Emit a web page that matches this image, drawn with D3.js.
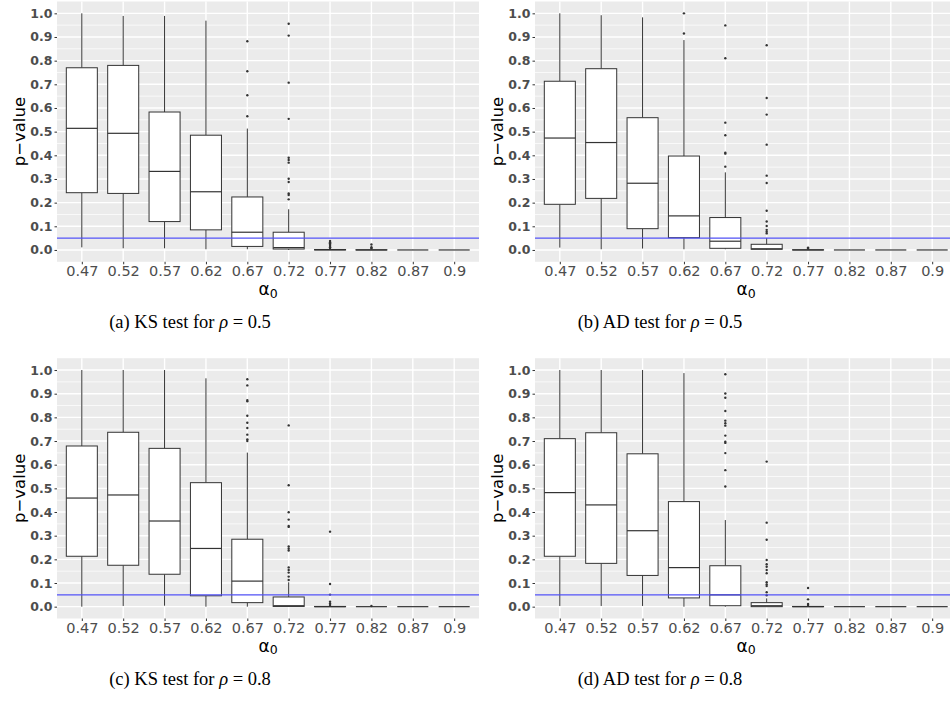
<!DOCTYPE html>
<html>
<head>
<meta charset="utf-8">
<script src="https://cdn.jsdelivr.net/npm/d3@7"></script>
<style>
  body { margin: 0; background: #fff; }
  svg { display: block; }
</style>
</head>
<body>
<div id="chart"></div>
<script>
// categories on the x axis (alpha_0)
var alphaLabels = ["0.47", "0.52", "0.57", "0.62", "0.67", "0.72", "0.77", "0.82", "0.87", "0.9"];
var yTicks = [0, 0.1, 0.2, 0.3, 0.4, 0.5, 0.6, 0.7, 0.8, 0.9, 1.0];
var cutoff = 0.05;

// box stats per category: [lower whisker, Q1, median, Q3, upper whisker]
var ksRho05Stats = [
  [0.011, 0.242, 0.514, 0.770, 1.0],
  [0.007, 0.239, 0.493, 0.780, 0.989],
  [0.007, 0.120, 0.332, 0.583, 0.989],
  [0.003, 0.085, 0.246, 0.485, 0.969],
  [0.003, 0.015, 0.075, 0.224, 0.513],
  [0.0, 0.004, 0.010, 0.075, 0.172],
  [0, 0, 0.001, 0.002, 0.004],
  [0, 0, 0, 0.001, 0.002],
  [0, 0, 0, 0, 0.001],
  [0, 0, 0, 0, 0]
];
var ksRho05Out = [
  [], [], [], [],
  [0.882, 0.755, 0.654, 0.565],
  [0.956, 0.906, 0.707, 0.554, 0.390, 0.380, 0.369, 0.301, 0.287, 0.239, 0.232, 0.214],
  [0.038, 0.033, 0.028, 0.022, 0.017, 0.012, 0.008],
  [0.023, 0.012, 0.007],
  [], []
];

var adRho05Stats = [
  [0.010, 0.193, 0.473, 0.713, 1.0],
  [0.003, 0.218, 0.454, 0.766, 0.992],
  [0.006, 0.090, 0.282, 0.559, 0.983],
  [0.003, 0.052, 0.144, 0.397, 0.887],
  [0.003, 0.007, 0.037, 0.137, 0.328],
  [0, 0.003, 0.005, 0.024, 0.051],
  [0, 0, 0, 0.001, 0.002],
  [0, 0, 0, 0, 0.001],
  [0, 0, 0, 0, 0],
  [0, 0, 0, 0, 0]
];
var adRho05Out = [
  [], [], [],
  [1.0, 0.915],
  [0.949, 0.810, 0.538, 0.485, 0.411, 0.407, 0.352],
  [0.865, 0.642, 0.572, 0.445, 0.314, 0.283, 0.166, 0.120, 0.101, 0.085, 0.077, 0.070],
  [0.010, 0.006],
  [], [], []
];

var ksRho08Stats = [
  [0.0, 0.213, 0.459, 0.679, 1.0],
  [0.003, 0.175, 0.472, 0.737, 1.0],
  [0.004, 0.137, 0.362, 0.669, 1.0],
  [0.0, 0.046, 0.246, 0.524, 0.965],
  [0.0, 0.017, 0.108, 0.285, 0.651],
  [0, 0.001, 0.004, 0.041, 0.103],
  [0, 0, 0, 0.001, 0.003],
  [0, 0, 0, 0, 0.001],
  [0, 0, 0, 0, 0],
  [0, 0, 0, 0, 0]
];
var ksRho08Out = [
  [], [], [], [],
  [0.961, 0.935, 0.873, 0.868, 0.807, 0.777, 0.755, 0.727, 0.707, 0.700],
  [0.766, 0.513, 0.399, 0.368, 0.341, 0.337, 0.254, 0.245, 0.237, 0.166, 0.155, 0.144, 0.127, 0.113],
  [0.317, 0.096, 0.051, 0.021, 0.013, 0.007],
  [0.003],
  [], []
];

var adRho08Stats = [
  [0.003, 0.213, 0.482, 0.710, 1.0],
  [0.003, 0.183, 0.430, 0.735, 1.0],
  [0.003, 0.132, 0.321, 0.646, 1.0],
  [0.0, 0.037, 0.165, 0.444, 0.987],
  [0.0, 0.004, 0.050, 0.173, 0.366],
  [0, 0, 0.004, 0.017, 0.035],
  [0, 0, 0, 0.001, 0.004],
  [0, 0, 0, 0, 0.001],
  [0, 0, 0, 0, 0],
  [0, 0, 0, 0, 0]
];
var adRho08Out = [
  [], [], [], [],
  [0.982, 0.901, 0.883, 0.827, 0.786, 0.775, 0.765, 0.723, 0.697, 0.692, 0.649, 0.577, 0.508],
  [0.613, 0.355, 0.283, 0.197, 0.179, 0.169, 0.155, 0.141, 0.103, 0.094, 0.087, 0.061, 0.048],
  [0.079, 0.031, 0.011, 0.007],
  [], [], []
];

var captions = [
  { label: "(a)", test: "KS", rho: "0.5" },
  { label: "(b)", test: "AD", rho: "0.5" },
  { label: "(c)", test: "KS", rho: "0.8" },
  { label: "(d)", test: "AD", rho: "0.8" }
];

var width = 950, height = 702;
var panelW = 422, panelH = 260.3;

var svg = d3.select("#chart").append("svg")
  .attr("width", width)
  .attr("height", height);

var panels = [
  { left: 57, top: 1.5, stats: ksRho05Stats, out: ksRho05Out, cap: captions[0], capX: 190 },
  { left: 535, top: 1.5, stats: adRho05Stats, out: adRho05Out, cap: captions[1], capX: 660 },
  { left: 57, top: 358.2, stats: ksRho08Stats, out: ksRho08Out, cap: captions[2], capX: 190 },
  { left: 535, top: 358.2, stats: adRho08Stats, out: adRho08Out, cap: captions[3], capX: 660 }
];

panels.forEach(drawPanel);

function drawPanel(p) {
  var x = d3.scalePoint()
    .domain(alphaLabels)
    .range([p.left, p.left + panelW])
    .padding(0.6);
  var y = d3.scaleLinear()
    .domain([-0.05, 1.05])
    .range([p.top + panelH, p.top]);
  var boxW = x.step() * 0.75;

  var g = svg.append("g");

  // panel background + grid
  g.append("rect")
    .attr("x", p.left).attr("y", p.top)
    .attr("width", panelW).attr("height", panelH)
    .attr("fill", "#ebebeb");

  var minor = d3.range(0.05, 1.05, 0.1);
  g.selectAll(".minor").data(minor).enter().append("line")
    .attr("x1", p.left).attr("x2", p.left + panelW)
    .attr("y1", function (d) { return y(d); })
    .attr("y2", function (d) { return y(d); })
    .attr("stroke", "#fff").attr("stroke-width", 0.7);
  g.selectAll(".major").data(yTicks).enter().append("line")
    .attr("x1", p.left).attr("x2", p.left + panelW)
    .attr("y1", function (d) { return y(d); })
    .attr("y2", function (d) { return y(d); })
    .attr("stroke", "#fff").attr("stroke-width", 1.4);
  g.selectAll(".vgrid").data(alphaLabels).enter().append("line")
    .attr("x1", function (d) { return x(d); })
    .attr("x2", function (d) { return x(d); })
    .attr("y1", p.top).attr("y2", p.top + panelH)
    .attr("stroke", "#fff").attr("stroke-width", 1.4);

  // boxes
  var boxes = g.selectAll(".box").data(p.stats).enter().append("g");
  boxes.append("line")
    .attr("x1", function (d, i) { return x(alphaLabels[i]); })
    .attr("x2", function (d, i) { return x(alphaLabels[i]); })
    .attr("y1", function (d) { return y(d[3]); })
    .attr("y2", function (d) { return y(d[4]); })
    .attr("stroke", "#333").attr("stroke-width", 1);
  boxes.append("line")
    .attr("x1", function (d, i) { return x(alphaLabels[i]); })
    .attr("x2", function (d, i) { return x(alphaLabels[i]); })
    .attr("y1", function (d) { return y(d[1]); })
    .attr("y2", function (d) { return y(d[0]); })
    .attr("stroke", "#333").attr("stroke-width", 1);
  boxes.append("rect")
    .attr("x", function (d, i) { return x(alphaLabels[i]) - boxW / 2; })
    .attr("y", function (d) { return y(d[3]); })
    .attr("width", boxW)
    .attr("height", function (d) { return y(d[1]) - y(d[3]); })
    .attr("fill", "#fff").attr("stroke", "#333").attr("stroke-width", 1);
  boxes.append("line")
    .attr("x1", function (d, i) { return x(alphaLabels[i]) - boxW / 2; })
    .attr("x2", function (d, i) { return x(alphaLabels[i]) + boxW / 2; })
    .attr("y1", function (d) { return y(d[2]); })
    .attr("y2", function (d) { return y(d[2]); })
    .attr("stroke", "#333").attr("stroke-width", 1.2);

  // outliers
  p.out.forEach(function (vals, i) {
    g.selectAll(null).data(vals).enter().append("circle")
      .attr("cx", x(alphaLabels[i]))
      .attr("cy", function (d) { return y(d); })
      .attr("r", 1.2)
      .attr("fill", "#333");
  });

  // cutoff line
  g.append("line")
    .attr("x1", p.left).attr("x2", p.left + panelW)
    .attr("y1", y(cutoff)).attr("y2", y(cutoff))
    .attr("stroke", "#5050f5").attr("stroke-width", 1.3);

  // axes
  var yAxis = g.append("g")
    .attr("transform", "translate(" + p.left + ",0)")
    .call(d3.axisLeft(y).tickValues(yTicks).tickFormat(d3.format(".1f")).tickSize(2.5).tickPadding(2));
  yAxis.select(".domain").remove();
  yAxis.selectAll(".tick line").attr("stroke", "#333");
  yAxis.selectAll("text")
    .attr("fill", "#4d4d4d")
    .style("font-family", "DejaVu Sans, sans-serif")
    .style("font-size", "12.5px")
    .style("font-weight", "bold");

  var xAxis = g.append("g")
    .attr("transform", "translate(0," + (p.top + panelH) + ")")
    .call(d3.axisBottom(x).tickSize(2.5).tickPadding(1.5));
  xAxis.select(".domain").remove();
  xAxis.selectAll(".tick line").attr("stroke", "#333");
  xAxis.selectAll("text")
    .attr("fill", "#4d4d4d")
    .style("font-family", "DejaVu Sans, sans-serif")
    .style("font-size", "14.5px");

  // axis titles
  g.append("text")
    .attr("transform", "translate(" + (p.left - 38) + "," + (p.top + panelH / 2) + ") rotate(-90)")
    .attr("text-anchor", "middle")
    .attr("dy", "0.35em")
    .style("font-family", "DejaVu Sans, sans-serif")
    .style("font-size", "16.5px")
    .text("p\u2212value");

  var at = g.append("text")
    .attr("x", p.left + panelW / 2)
    .attr("y", p.top + panelH + 33)
    .attr("text-anchor", "middle")
    .style("font-family", "DejaVu Sans, sans-serif")
    .style("font-size", "17px");
  at.append("tspan").text("\u03b1");
  at.append("tspan").attr("dy", "0.22em").style("font-size", "12.5px").text("0");

  // caption
  var ct = g.append("text")
    .attr("x", p.capX)
    .attr("y", p.top + panelH + 66)
    .attr("text-anchor", "middle")
    .style("font-family", "Liberation Serif, serif")
    .style("font-size", "18.5px")
    .attr("fill", "#000");
  ct.append("tspan").text(p.cap.label + " " + p.cap.test + " test for ");
  ct.append("tspan").style("font-style", "italic").text("\u03c1");
  ct.append("tspan").text(" = " + p.cap.rho);
}
</script>
</body>
</html>
